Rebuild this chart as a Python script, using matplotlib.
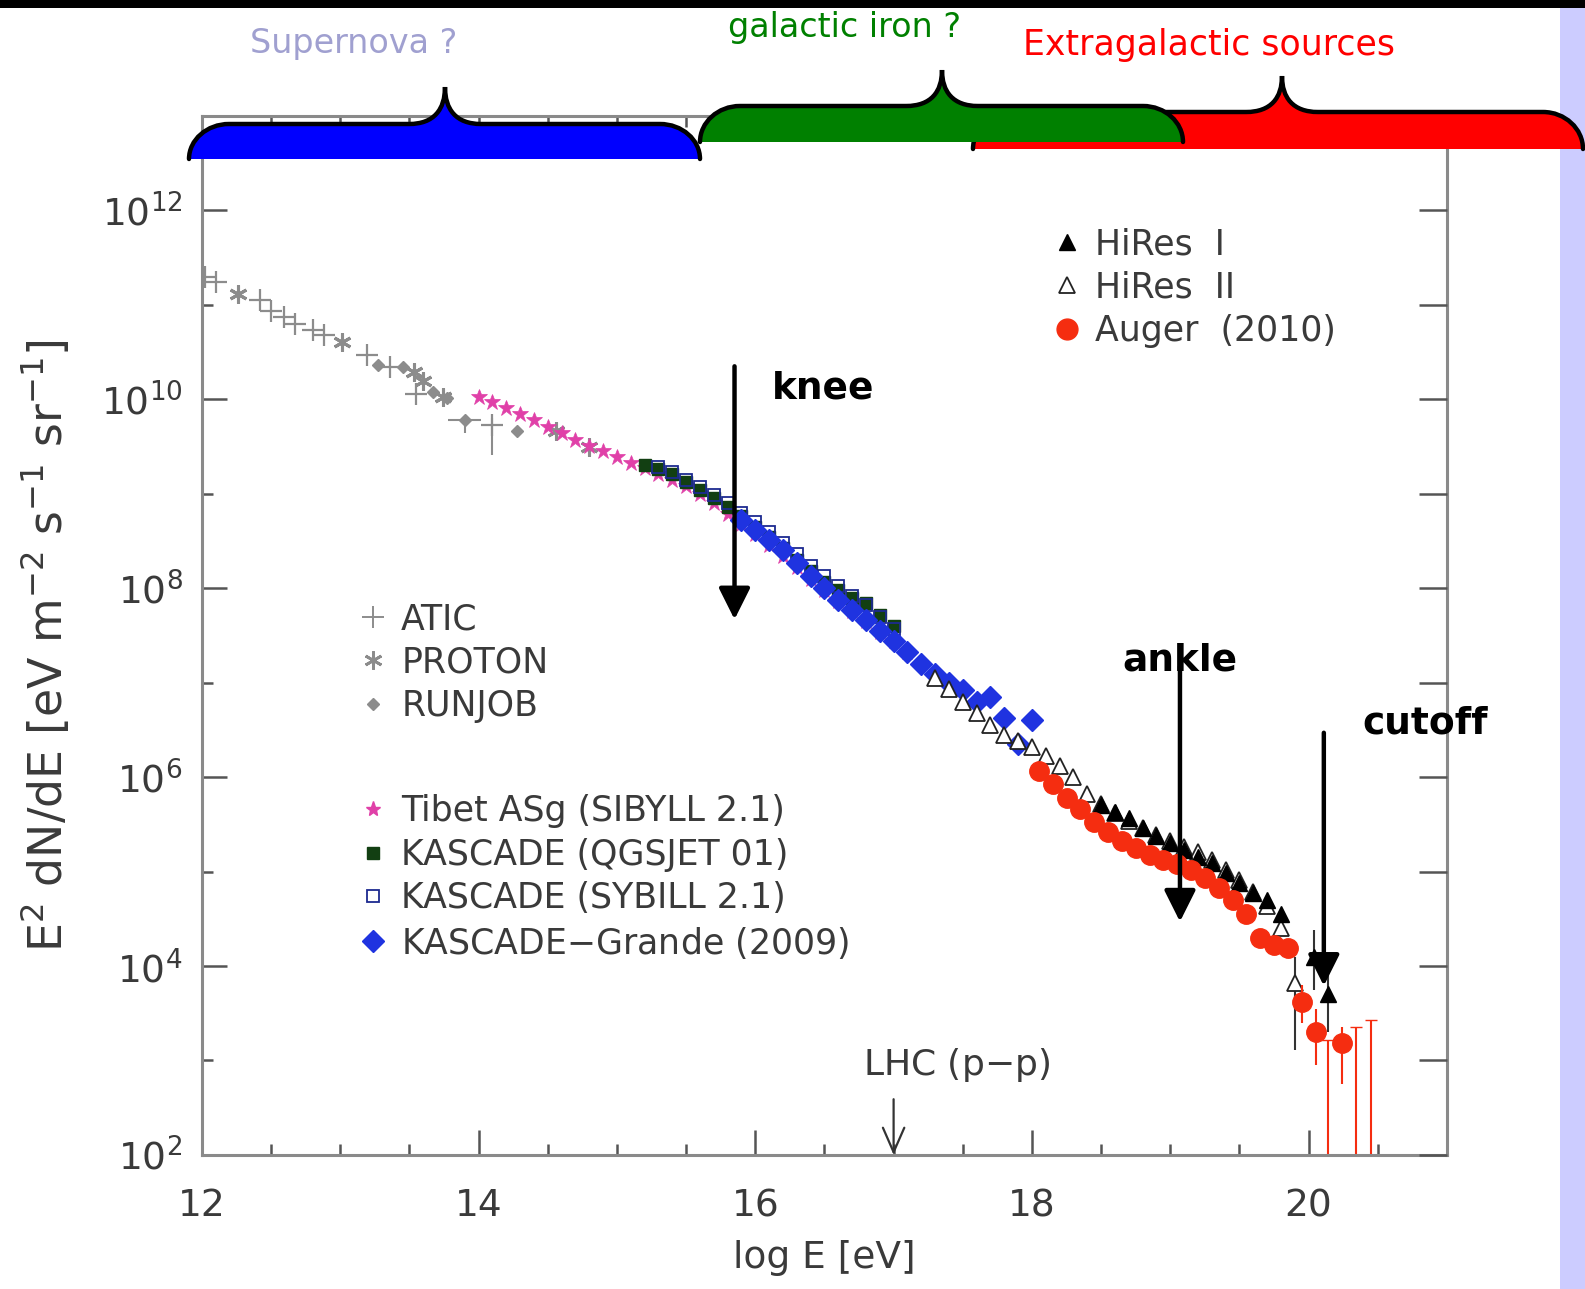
"""
Espectro de raios cosmicos (E^2 dN/dE) com as chaves coloridas no topo.
"""

import numpy as np
import matplotlib
matplotlib.use('Agg')
import matplotlib.pyplot as plt
from matplotlib.path import Path
from matplotlib.patches import PathPatch, Rectangle
from matplotlib.lines import Line2D

# ---- dados: log10(E/eV) e log10(E^2 dN/dE) ----
atic_x = [12.02, 12.10, 12.42, 12.50, 12.59, 12.67, 12.80, 12.88, 13.19, 13.36, 13.55, 14.10]
atic_y = [11.30, 11.24, 11.05, 10.94, 10.87, 10.80, 10.73, 10.68, 10.47, 10.34, 10.06, 9.73]

proton_x = [12.26, 13.01, 13.53, 13.60, 13.74, 14.56, 14.80]
proton_y = [11.12, 10.61, 10.29, 10.19, 10.03, 9.66, 9.50]

runjob_x = [13.27, 13.45, 13.67, 13.77, 13.90, 14.28]
runjob_y = [10.36, 10.34, 10.08, 10.01, 9.78, 9.67]

tibet_x = [14.0, 14.1, 14.2, 14.3, 14.4, 14.5, 14.6, 14.7, 14.8, 14.9, 15.0, 15.1, 15.2, 15.3,
           15.4, 15.5, 15.6, 15.7, 15.8, 15.9, 16.0, 16.1, 16.2, 16.3, 16.4, 16.5, 16.6, 16.7,
           16.8, 16.9, 17.0, 17.1]
tibet_y = [10.03, 9.97, 9.91, 9.84, 9.78, 9.71, 9.64, 9.57, 9.51, 9.45, 9.39, 9.33, 9.27, 9.21,
           9.15, 9.08, 9.00, 8.90, 8.79, 8.68, 8.57, 8.46, 8.34, 8.22, 8.10, 7.98, 7.87, 7.76,
           7.65, 7.54, 7.44, 7.33]

kq_x = [15.2, 15.3, 15.4, 15.5, 15.6, 15.7, 15.8, 15.9, 16.0, 16.1, 16.2, 16.3, 16.4, 16.5,
        16.6, 16.7, 16.8, 16.9, 17.0]
kq_y = [9.31, 9.26, 9.21, 9.12, 9.04, 8.96, 8.86, 8.76, 8.65, 8.54, 8.43, 8.30, 8.18, 8.07,
        7.98, 7.90, 7.84, 7.72, 7.60]

ks_x = [15.3, 15.4, 15.5, 15.6, 15.7, 15.8, 15.9, 16.0, 16.1, 16.2, 16.3, 16.4, 16.5, 16.6,
        16.7, 16.8, 16.9, 17.0]
ks_y = [9.28, 9.23, 9.15, 9.07, 8.99, 8.90, 8.80, 8.70, 8.60, 8.48, 8.36, 8.24, 8.13, 8.02,
        7.92, 7.82, 7.70, 7.57]

kg_x = [15.9, 16.0, 16.1, 16.2, 16.3, 16.4, 16.5, 16.6, 16.7, 16.8, 16.9, 17.0, 17.1, 17.2,
        17.3, 17.4, 17.5, 17.6, 17.7, 17.8, 17.9, 18.0]
kg_y = [8.72, 8.62, 8.51, 8.40, 8.27, 8.13, 8.00, 7.88, 7.77, 7.66, 7.55, 7.44, 7.32, 7.20,
        7.09, 7.00, 6.92, 6.80, 6.85, 6.63, 6.35, 6.60]

hires2_x = [17.3, 17.4, 17.5, 17.6, 17.7, 17.8, 17.9, 18.0, 18.1, 18.2, 18.3, 18.4, 18.5, 18.6,
            18.7, 18.8, 18.9, 19.0, 19.1, 19.2, 19.3, 19.4, 19.5, 19.6, 19.7, 19.8, 19.9]
hires2_y = [7.05, 6.93, 6.80, 6.68, 6.55, 6.45, 6.38, 6.32, 6.22, 6.12, 6.00, 5.82, 5.72, 5.62,
            5.54, 5.46, 5.39, 5.32, 5.26, 5.21, 5.12, 5.02, 4.91, 4.78, 4.64, 4.40, 3.82]

hires1_x = [18.5, 18.6, 18.7, 18.8, 18.9, 19.0, 19.1, 19.2, 19.3, 19.4, 19.5, 19.6, 19.7, 19.8,
            20.04, 20.14]
hires1_y = [5.70, 5.63, 5.57, 5.46, 5.38, 5.30, 5.23, 5.15, 5.09, 4.99, 4.88, 4.77, 4.70, 4.55,
            4.10, 3.70]

auger_x = [18.05, 18.15, 18.25, 18.35, 18.45, 18.55, 18.65, 18.75, 18.85, 18.95, 19.05, 19.15,
           19.25, 19.35, 19.45, 19.55, 19.65, 19.75, 19.85, 19.95, 20.05, 20.24]
auger_y = [6.07, 5.93, 5.78, 5.66, 5.52, 5.42, 5.32, 5.25, 5.18, 5.12, 5.08, 5.02,
           4.93, 4.83, 4.70, 4.55, 4.30, 4.22, 4.19, 3.62, 3.30, 3.18]
auger_ul_x = [20.14, 20.34, 20.45]
auger_ul_y = [3.22, 3.35, 3.43]

# ---- cores ----
CINZA = '#8c8c8c'
ROSA = '#e040a8'
VERDE_ESC = '#123f12'
AZUL_ESC = '#1c2a90'
AZUL = '#1f33e0'
VERMELHO = '#f52d10'
TEXTO = '#3a3a3a'

plt.rcParams['font.family'] = ['DejaVu Sans']
plt.rcParams['mathtext.default'] = 'regular'

fig = plt.figure(figsize=(15.85, 12.89), dpi=100)
ax = fig.add_axes([0.1274, 0.104, 0.7855, 0.806])


def p10(v):
    return np.power(10.0, np.asarray(v, dtype=float))


# ATIC, PROTON, RUNJOB
ax.plot(atic_x, p10(atic_y), '+', color=CINZA, ms=16, mew=1.6)
ax.errorbar([atic_x[-1]], p10([atic_y[-1]]),
            yerr=[[p10(atic_y[-1]) - p10(9.41)], [p10(9.80) - p10(atic_y[-1])]],
            fmt='none', ecolor=CINZA, elinewidth=1.5)
ax.plot(proton_x, p10(proton_y), ls='none', marker=(6, 2, 0), color=CINZA, ms=13, mew=2.2)
ax.plot(runjob_x, p10(runjob_y), 'D', color=CINZA, ms=6)
ax.errorbar([runjob_x[4]], p10([runjob_y[4]]), xerr=0.12,
            yerr=[[p10(runjob_y[4]) - p10(9.64)], [0]],
            fmt='none', ecolor=CINZA, elinewidth=1.5)

# Tibet e KASCADE
ax.plot(tibet_x, p10(tibet_y), '*', color=ROSA, ms=12, mew=0.5)
ax.plot(kq_x, p10(kq_y), 's', color=VERDE_ESC, ms=9)
ax.plot(ks_x, p10(ks_y), 's', mfc='none', mec=AZUL_ESC, ms=8, mew=1.3)
ax.plot(kg_x, p10(kg_y), 'D', color=AZUL, ms=11)

# HiRes e Auger
ax.errorbar([hires2_x[-1]], p10([hires2_y[-1]]),
            yerr=[[p10(hires2_y[-1]) - p10(3.11)], [p10(4.10) - p10(hires2_y[-1])]],
            fmt='none', ecolor='#333333', elinewidth=1.5)
ax.errorbar(hires1_x[-2:], p10(hires1_y[-2:]),
            yerr=[p10(hires1_y[-2:]) - p10([3.75, 3.30]), p10([4.38, 3.95]) - p10(hires1_y[-2:])],
            fmt='none', ecolor='#333333', elinewidth=1.5)
ax.plot(hires2_x, p10(hires2_y), '^', mfc='white', mec='#222222', ms=11, mew=1.3)
ax.plot(hires1_x, p10(hires1_y), '^', color='black', ms=11)

ax.errorbar(auger_x[-3:], p10(auger_y[-3:]),
            yerr=[p10(auger_y[-3:]) - p10([3.40, 2.95, 2.75]),
                  p10([3.80, 3.55, 3.35]) - p10(auger_y[-3:])],
            fmt='none', ecolor=VERMELHO, elinewidth=1.5)
ax.errorbar(auger_ul_x, p10(auger_ul_y), yerr=[p10(auger_ul_y) - 1.0, np.zeros(3)],
            fmt='none', ecolor=VERMELHO, elinewidth=1.5, capsize=4)
ax.plot(auger_x, p10(auger_y), 'o', color=VERMELHO, ms=14)

# ---- eixos ----
ax.set_xlim(12, 21)
ax.set_yscale('log')
ax.set_ylim(1e2, 1e13)
ax.set_xticks([12, 14, 16, 18, 20])
ax.set_xticks(np.arange(12, 21.01, 0.5), minor=True)
ax.set_yticks(p10(np.arange(2, 13, 2)))
ax.set_yticklabels([f'$10^{{{k}}}$' for k in range(2, 13, 2)])
ax.set_yticks(p10(np.arange(3, 14, 2)), minor=True)
ax.yaxis.set_minor_formatter(matplotlib.ticker.NullFormatter())
ax.tick_params(which='both', direction='in', top=True, right=True, color='#555555',
               width=1.8, labelcolor=TEXTO, labelsize=27)
ax.tick_params(which='major', length=18)
ax.tick_params(which='minor', length=8)
ax.tick_params(axis='y', which='minor', right=False)
ax.tick_params(axis='y', which='major', pad=14)
ax.tick_params(axis='x', which='major', pad=24)
for s in ax.spines.values():
    s.set_color('#8a8a8a')
    s.set_linewidth(2.2)

# marcas do lado direito todas do mesmo tamanho
ax_r = ax.twinx()
ax_r.set_yscale('log')
ax_r.set_ylim(ax.get_ylim())
ax_r.set_yticks(p10(np.arange(2, 14, 1)))
ax_r.yaxis.set_minor_locator(matplotlib.ticker.NullLocator())
ax_r.tick_params(direction='in', length=20, width=1.8, color='#555555', labelright=False)
for s in ax_r.spines.values():
    s.set_visible(False)

ax.set_xlabel('log E [eV]', fontsize=27, color=TEXTO)
ax.xaxis.set_label_coords(0.5, -0.082)
ax.set_ylabel('E$^2$ dN/dE [eV m$^{-2}$ s$^{-1}$ sr$^{-1}$]', fontsize=33, color=TEXTO)
ax.yaxis.set_label_coords(-0.104, 0.49)

# ---- legendas ----
kw = dict(frameon=False, fontsize=25, labelcolor=TEXTO, handlelength=0.7,
          handletextpad=0.45, labelspacing=0.27, borderpad=0, borderaxespad=0,
          loc='upper left')
h1 = [Line2D([], [], ls='none', marker='+', color=CINZA, ms=16, mew=1.4),
      Line2D([], [], ls='none', marker=(6, 2, 0), color=CINZA, ms=13, mew=2),
      Line2D([], [], ls='none', marker='D', color=CINZA, ms=6)]
leg1 = ax.legend(h1, ['ATIC', 'PROTON', 'RUNJOB'], bbox_to_anchor=(0.128, 0.532), **kw)
ax.add_artist(leg1)
h2 = [Line2D([], [], ls='none', marker='*', color=ROSA, ms=11),
      Line2D([], [], ls='none', marker='s', color=VERDE_ESC, ms=9),
      Line2D([], [], ls='none', marker='s', mfc='none', mec=AZUL_ESC, ms=8, mew=1.3),
      Line2D([], [], ls='none', marker='D', color=AZUL, ms=11)]
leg2 = ax.legend(h2, ['Tibet ASg (SIBYLL 2.1)', 'KASCADE (QGSJET 01)',
                      'KASCADE (SYBILL 2.1)', 'KASCADE$-$Grande (2009)'],
                 bbox_to_anchor=(0.128, 0.347), **kw)
ax.add_artist(leg2)
h3 = [Line2D([], [], ls='none', marker='^', color='black', ms=12),
      Line2D([], [], ls='none', marker='^', mfc='white', mec='#222222', ms=12, mew=1.3),
      Line2D([], [], ls='none', marker='o', color=VERMELHO, ms=15)]
ax.legend(h3, ['HiRes  I', 'HiRes  II', 'Auger  (2010)'], bbox_to_anchor=(0.685, 0.893), **kw)

# ---- setas ----
seta = dict(arrowstyle='-|>,head_length=0.8,head_width=0.4', color='black', lw=3.2,
            shrinkA=0, shrinkB=0, mutation_scale=24)
ax.annotate('', xy=(15.85, p10(7.67)), xytext=(15.85, p10(10.35)), arrowprops=seta)
ax.annotate('', xy=(19.07, p10(4.47)), xytext=(19.07, p10(7.17)), arrowprops=seta)
ax.annotate('', xy=(20.11, p10(3.79)), xytext=(20.11, p10(6.47)), arrowprops=seta)
ax.text(16.12, p10(10.12), 'knee', fontsize=27, fontweight='bold', va='center')
ax.text(19.07, p10(7.24), 'ankle', fontsize=27, fontweight='bold', va='center', ha='center')
ax.text(20.39, p10(6.57), 'cutoff', fontsize=27, fontweight='bold', va='center')

ax.annotate('', xy=(17.0, 1e2), xytext=(17.0, p10(2.59)),
            arrowprops=dict(arrowstyle='->,head_length=0.8,head_width=0.35', color='#333333',
                            lw=1.6, shrinkA=0, shrinkB=0, mutation_scale=22))
ax.text(16.78, p10(2.95), 'LHC (p$-$p)', fontsize=26, color=TEXTO, va='center')

# ---- camada superior: chaves, faixa e barra ----
top = fig.add_axes([0, 0, 1, 1], zorder=5)
top.set_xlim(0, 1585)
top.set_ylim(1289, 0)
top.axis('off')
top.patch.set_alpha(0)

top.add_patch(Rectangle((1560, 8), 25, 1281, color='#ccccff', lw=0))
top.add_patch(Rectangle((0, 0), 1585, 8, color='black', lw=0))


def chave(x0, x1, xc, yb, yt, yp, cor, r=40, cw=36):
    k = 0.55
    h = yb - yt
    hp = yt - yp
    verts = [(x0, yb),
             (x0, yb - k * h), (x0 + r - k * r, yt), (x0 + r, yt),
             (xc - cw, yt),
             (xc - 0.3 * cw, yt), (xc, yt - 0.4 * hp), (xc, yp),
             (xc, yt - 0.4 * hp), (xc + 0.3 * cw, yt), (xc + cw, yt),
             (x1 - r, yt),
             (x1 - r + k * r, yt), (x1, yb - k * h), (x1, yb)]
    codes = [Path.MOVETO] + [Path.CURVE4] * 3 + [Path.LINETO] + [Path.CURVE4] * 6 + \
            [Path.LINETO] + [Path.CURVE4] * 3
    top.add_patch(PathPatch(Path(verts + [(x0, yb)], codes + [Path.CLOSEPOLY]),
                            facecolor=cor, edgecolor='none'))
    top.add_patch(PathPatch(Path(verts, codes), facecolor='none', edgecolor='black',
                            lw=3.2, capstyle='round'))


chave(189, 700, 445, 159, 124, 87, '#0000ff')
chave(973, 1583, 1282, 149, 112, 76, '#ff0000')
chave(700, 1183, 942, 142, 106, 70, '#008000')

fig.text(354 / 1585, 1 - 44 / 1289, 'Supernova ?', fontsize=24, color='#a0a0d0',
         ha='center', va='center')
fig.text(845 / 1585, 1 - 28 / 1289, 'galactic iron ?', fontsize=24, color='#008000',
         ha='center', va='center')
fig.text(1209 / 1585, 1 - 45 / 1289, 'Extragalactic sources', fontsize=25, color='#ff0000',
         ha='center', va='center')

fig.savefig('out.png', dpi=100, facecolor='white')
